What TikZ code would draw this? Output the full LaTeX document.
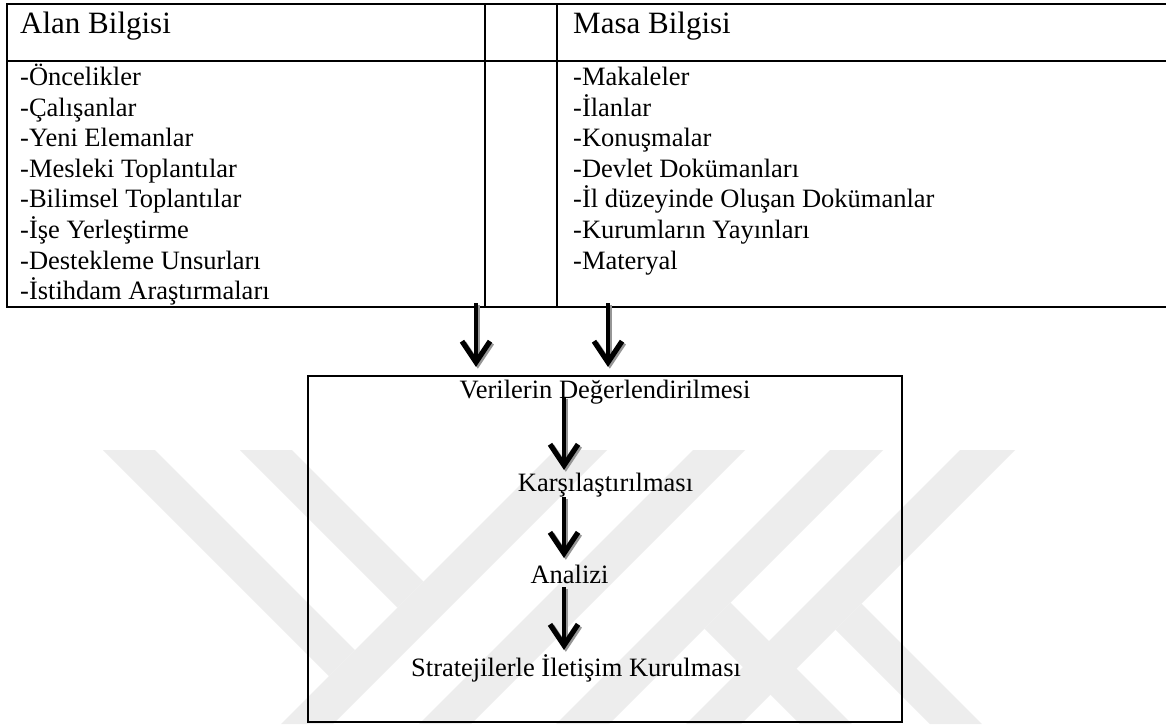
\documentclass[tikz,border=0pt]{standalone}
\usepackage{fontspec}
\setmainfont{Liberation Serif}
\usetikzlibrary{arrows.meta,calc}
\definecolor{wmgray}{RGB}{237,237,237}
\definecolor{shadowgray}{RGB}{150,150,150}

\begin{document}
\begin{tikzpicture}[x=1pt,y=-1pt,
  item/.style={anchor=base west, inner sep=0pt, font=\fontsize{26.5}{30}\selectfont},
  head/.style={anchor=base west, inner sep=0pt, font=\fontsize{31}{35}\selectfont},
  stage/.style={anchor=base, inner sep=0pt, font=\fontsize{26.5}{30}\selectfont},
  rule/.style={line width=2.2pt},
  flow/.style={line width=4.8pt,
    -{Straight Barb[length=21pt,width=28pt,line width=5.2pt]}},
  flowshadow/.style={flow, draw=shadowgray, transform canvas={shift={(1.8pt,-1.8pt)}}},
  band/.style={fill=wmgray}
]
% page
\fill[white] (0,0) rectangle (1166,724);
\useasboundingbox (0,0) rectangle (1166,724);

% faint background emblem made of diagonal bands
\fill[band] (103,450) -- (155,450) -- (355,650) -- (329,676) -- cycle;
\fill[band] (240,450) -- (292,450) -- (423.5,581.5) -- (397.5,607.5) -- cycle;
\fill[band] (555,450) -- (607,450) -- (333,724) -- (281,724) -- cycle;
\fill[band] (693,450) -- (745,450) -- (471,724) -- (419,724) -- cycle;
\fill[band] (830,450) -- (883,450) -- (609,724) -- (556,724) -- cycle;
\fill[band] (960,450) -- (1015,450) -- (741,724) -- (686,724) -- cycle;
\fill[band] (730.5,602.5) -- (852,724) -- (800,724) -- (704.5,628.5) -- cycle;
\fill[band] (861.5,603.5) -- (982,724) -- (930,724) -- (835.5,629.5) -- cycle;

% table of the two information sources
\draw[line width=2.8pt] (6,4) -- (1166,4);
\draw[rule] (7,61) -- (1166,61);
\draw[rule] (6,307) -- (1166,307);
\draw[rule] (7,3) -- (7,308);
\draw[rule] (485,4) -- (485,307);
\draw[rule] (557,4) -- (557,307);

\node[head] (alan) at (20,33.5) {Alan Bilgisi};
\node[head] (masa) at (573,33.5) {Masa Bilgisi};

\foreach \t [count=\i] in {-Öncelikler, -Çalışanlar, -Yeni Elemanlar,
    -Mesleki Toplantılar, -Bilimsel Toplantılar, -İşe Yerleştirme,
    -Destekleme Unsurları, -İstihdam Araştırmaları}
  \node[item] (l\i) at (20,{85.5+30.6*(\i-1)}) {\t};

\foreach \t [count=\i] in {-Makaleler, -İlanlar, -Konuşmalar,
    -Devlet Dokümanları, -İl düzeyinde Oluşan Dokümanlar,
    -Kurumların Yayınları, -Materyal}
  \node[item] (r\i) at (573,{85.5+30.6*(\i-1)}) {\t};

% evaluation box
\node[draw, line width=2.2pt, minimum width=594pt, minimum height=346pt,
      inner sep=0pt] (box) at (605,549) {};

\node[stage] (s1) at (605,398) {Verilerin Değerlendirilmesi};
\node[stage] (s2) at (605.5,491) {Karşılaştırılması};
\node[stage] (s3) at (569.5,583) {Analizi};
\node[stage] (s4) at (576,676) {Stratejilerle İletişim Kurulması};

% arrows from the table into the box
\coordinate (tb1) at (476,303);
\coordinate (tb2) at (608,303);
\foreach \c in {tb1,tb2} {
  \draw[flowshadow] (\c) -- ($(box.north -| \c)+(0,-8)$);
  \draw[flow] (\c) -- ($(box.north -| \c)+(0,-8)$);
}

% arrows between the stages
\coordinate (axis) at (564,0);
\foreach \a/\b/\sa/\sb in {s1/s2/-1/-21, s2/s3/6/-25, s3/s4/4/-26} {
  \draw[flowshadow] ($(\a.base -| axis)+(0,\sa)$) -- ($(\b.base -| axis)+(0,\sb)$);
  \draw[flow] ($(\a.base -| axis)+(0,\sa)$) -- ($(\b.base -| axis)+(0,\sb)$);
}
\end{tikzpicture}
\end{document}
